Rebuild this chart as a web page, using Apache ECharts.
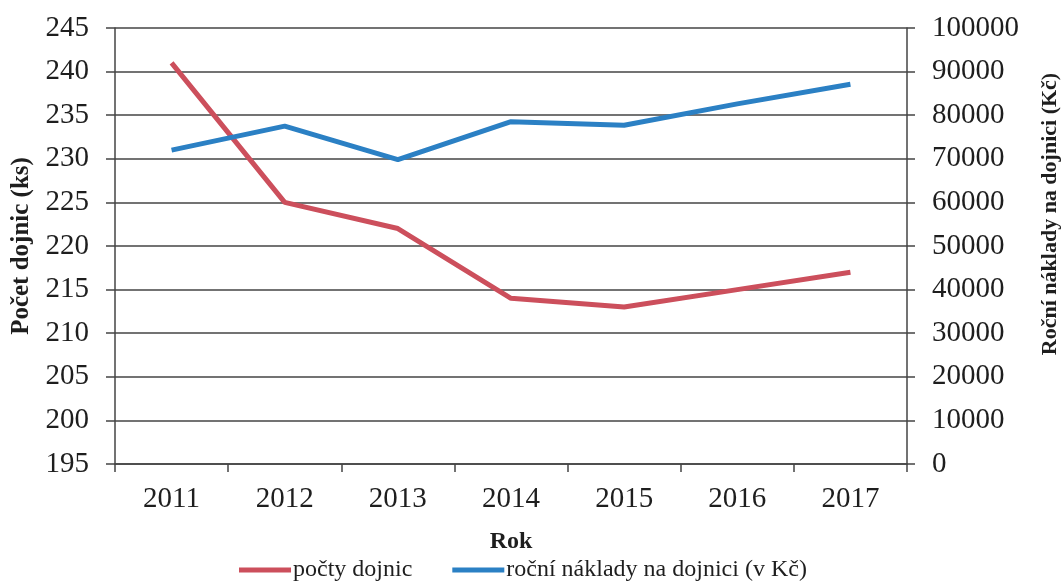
<!DOCTYPE html>
<html>
<head>
<meta charset="utf-8">
<script src="https://cdn.jsdelivr.net/npm/echarts@6/dist/echarts.min.js"></script>
<style>
html,body{margin:0;padding:0;background:#fff;}
#chart{width:1063px;height:581px;}
</style>
</head>
<body>
<div id="chart"></div>
<script>
const years = ['2011','2012','2013','2014','2015','2016','2017'];
const pocetDojnic = [241, 225, 222, 214, 213, 215, 217];
const nakladyNaDojnici = [72000, 77500, 69800, 78500, 77700, 82600, 87100];
const seriesNames = ['počty dojnic', 'roční náklady na dojnici (v Kč)'];
const axisNames = ['Rok', 'Počet dojnic (ks)', 'Roční náklady na dojnici (Kč)'];

const FONT = '"Liberation Serif", "Times New Roman", serif';
const TXT = '#1e1e1e';
const LINE = '#444444';

const chart = echarts.init(document.getElementById('chart'), null, {renderer: 'canvas'});
chart.setOption({
  backgroundColor: '#ffffff',
  animation: false,
  textStyle: {fontFamily: FONT, color: TXT},
  grid: {left: 115, right: 156, top: 28, bottom: 117, containLabel: false, outerBoundsMode: 'none'},
  legend: {
    data: seriesNames,
    left: 234,
    top: 553,
    icon: 'rect',
    itemWidth: 52,
    itemHeight: 5,
    itemGap: 40,
    textStyle: {fontFamily: FONT, fontSize: 24, color: TXT, padding: [0,0,0,-3]}
  },
  xAxis: {
    type: 'category',
    data: years,
    boundaryGap: true,
    name: axisNames[0],
    nameLocation: 'middle',
    nameGap: 66,
    nameTextStyle: {fontFamily: FONT, fontSize: 24, fontWeight: 'bold', color: TXT},
    axisLine: {show: true, lineStyle: {color: LINE, width: 1.5}},
    axisTick: {show: true, interval: 0, length: 8, lineStyle: {color: LINE, width: 1.5}},
    axisLabel: {fontFamily: FONT, fontSize: 29, color: TXT, margin: 21, interval: 0},
    splitLine: {show: false}
  },
  yAxis: [
    {
      type: 'value',
      position: 'left',
      min: 195, max: 245, interval: 5,
      name: axisNames[1],
      nameLocation: 'middle',
      nameGap: 81,
      nameRotate: 90,
      nameTextStyle: {fontFamily: FONT, fontSize: 25, fontWeight: 'bold', color: TXT},
      axisLine: {show: true, lineStyle: {color: LINE, width: 1.5}},
      axisTick: {show: true, length: 9, lineStyle: {color: LINE, width: 1.5}},
      axisLabel: {fontFamily: FONT, fontSize: 29, color: TXT, margin: 26},
      splitLine: {show: true, lineStyle: {color: LINE, width: 1.5}}
    },
    {
      type: 'value',
      position: 'right',
      min: 0, max: 100000, interval: 10000,
      name: axisNames[2],
      nameLocation: 'middle',
      nameGap: 132,
      nameRotate: 90,
      nameTextStyle: {fontFamily: FONT, fontSize: 22, fontWeight: 'bold', color: TXT, padding: [0, 0, 0, 64]},
      axisLine: {show: true, lineStyle: {color: LINE, width: 1.5}},
      axisTick: {show: true, length: 8, lineStyle: {color: LINE, width: 1.5}},
      axisLabel: {fontFamily: FONT, fontSize: 29, color: TXT, margin: 25, formatter: function (v) { return String(v); }},
      splitLine: {show: false}
    }
  ],
  series: [
    {
      name: seriesNames[0],
      type: 'line',
      yAxisIndex: 0,
      data: pocetDojnic,
      symbol: 'none',
      lineStyle: {color: '#cc4f5c', width: 5},
      itemStyle: {color: '#cc4f5c'}
    },
    {
      name: seriesNames[1],
      type: 'line',
      yAxisIndex: 1,
      data: nakladyNaDojnici,
      symbol: 'none',
      lineStyle: {color: '#2b80c4', width: 5},
      itemStyle: {color: '#2b80c4'}
    }
  ]
});
</script>
</body>
</html>
